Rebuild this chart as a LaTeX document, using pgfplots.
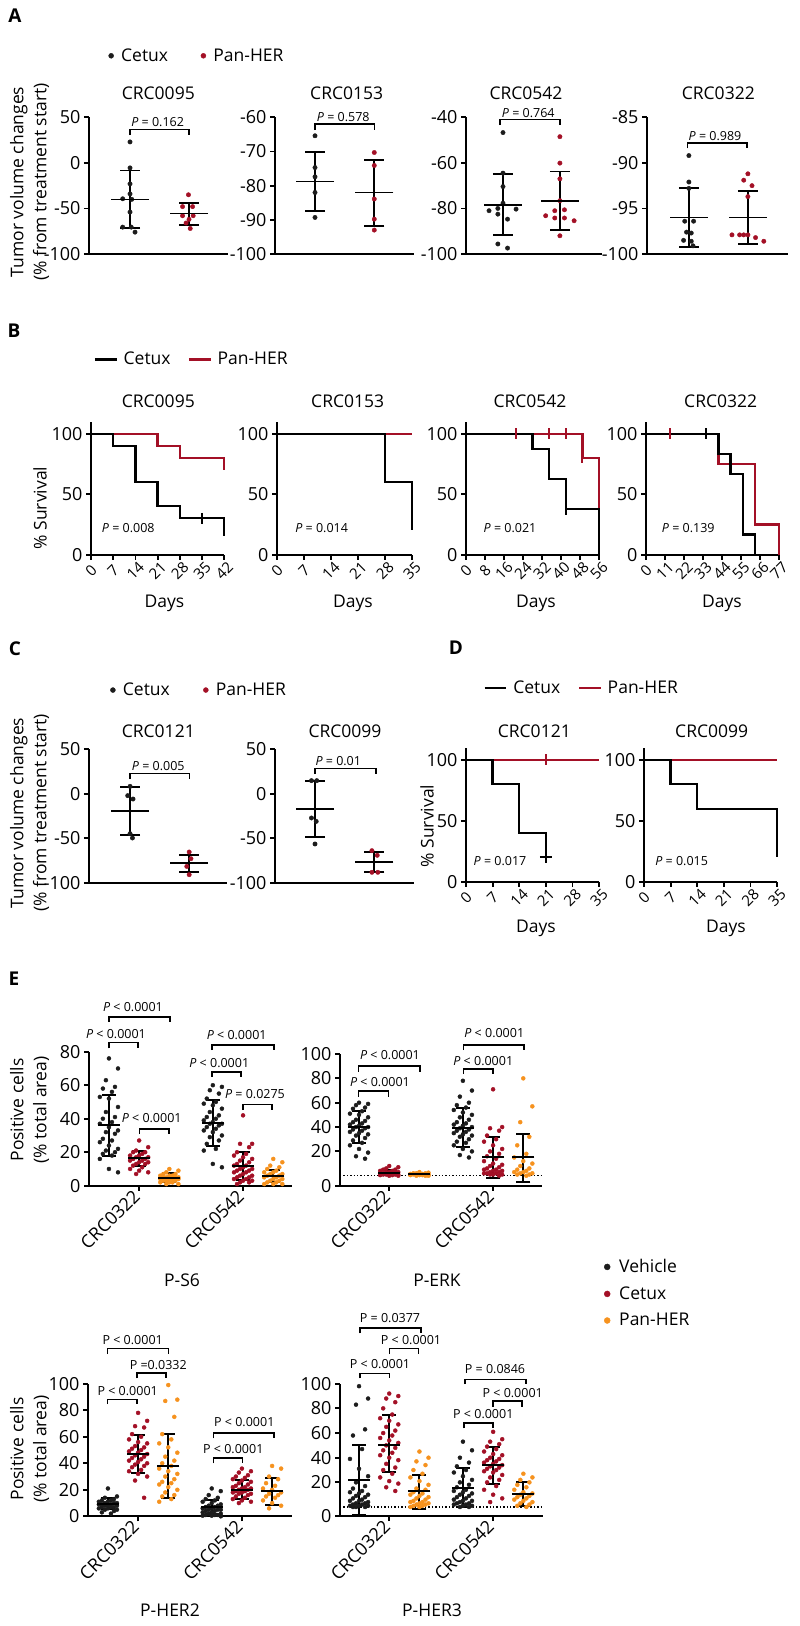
\documentclass[border=0pt]{standalone}
\usepackage{fontspec}
\setmainfont{Open Sans}
\usepackage{pgfplots}
\pgfplotsset{compat=1.18}
\definecolor{cred}{RGB}{163,16,38}
\definecolor{corg}{RGB}{246,146,30}
\definecolor{cblk}{RGB}{28,28,28}
\newcommand{\fbig}{\fontsize{17.5}{23}\selectfont}
\newcommand{\ftick}{\fontsize{18}{20}\selectfont}
\newcommand{\fday}{\fontsize{15}{17}\selectfont}
\newcommand{\fp}{\fontsize{12.5}{14}\selectfont}
\newcommand{\flet}{\fontsize{19}{20}\selectfont\bfseries}
\newcommand{\iP}{\textit{P}}
\newcommand{\br}[4]{\draw[line width=1.6pt] (#1,#4) -- (#1,#3) -- (#2,#3) -- (#2,#4);}
\newcommand{\grp}[3]{\addplot[#1] table[x expr={#2+0.1*(mod(\coordindex*3+3,7)-3)}, y index=0, header=false, row sep=\\]{#3};}
\pgfplotsset{
  base/.style={scale only axis, anchor=south west, clip=false,
    axis x line*=bottom, axis y line*=left,
    axis line style={line width=2.2pt},
    every tick/.style={line width=1.8pt, black},
    tick align=outside, major tick length=5pt,
    ticklabel style={font=\ftick},
    /pgf/number format/assume math mode=true,
    scaled ticks=false},
  scat/.style={base, xtick=\empty, height=136.7pt},
  scatC/.style={base, xtick=\empty, height=134pt, ymin=-100, ymax=50, ytick={-100,-50,0,50}},
  km/.style={base, ymin=0, ymax=110, ytick={0,50,100}, xmin=0,
    xticklabel shift=11pt,
    xticklabel style={font=\fday, rotate=45, anchor=center}},
  edot/.style={base, xtick={2,5.44}, xticklabels={CRC0322,CRC0542},
    xticklabel style={rotate=45, anchor=east}},
  dA/.style={only marks, mark=*, mark size=2.2pt, color=cblk},
  rA/.style={only marks, mark=*, mark size=2.2pt, color=cred},
  dk/.style={only marks, mark=*, mark size=2pt, color=cblk},
  dr/.style={only marks, mark=*, mark size=2pt, color=cred},
  do/.style={only marks, mark=*, mark size=2pt, color=corg},
  msdA/.style={only marks, black, mark=-, mark size=19pt, mark options={line width=1.8pt},
    error bars/.cd, y dir=both, y explicit, error bar style={line width=1.8pt, black},
    error mark options={rotate=90, mark size=10pt, line width=1.8pt, black}},
  msdE/.style={only marks, black, mark=-, mark size=11pt, mark options={line width=2pt},
    error bars/.cd, y dir=both, y explicit, error bar style={line width=2pt, black},
    error mark options={rotate=90, mark size=7pt, line width=2pt, black}},
  kmk/.style={const plot, black, line width=2.3pt, no marks},
  kmr/.style={const plot, cred, line width=2.3pt, no marks},
  cenk/.style={only marks, black, mark=|, mark size=5.5pt, mark options={line width=2pt}},
  cenr/.style={only marks, cred, mark=|, mark size=5.5pt, mark options={line width=2pt}},
  dotleg/.style={legend image code/.code={\draw[##1] plot coordinates {(0pt,0pt)}; \path[draw=none,fill=none] (-2.5pt,0pt) -- (#1,0pt);}},
  dotleg/.default=8pt,
  dotlegE/.style={legend image code/.code={\draw[##1] plot coordinates {(0pt,0pt)}; \path[draw=none,fill=none] (-3pt,0pt) -- (10pt,0pt);}},
  lineleg/.style={legend image code/.code={\draw[##1, line width=#1] (0pt,0pt) -- (21.7pt,0pt); \path[draw=none,fill=none] (0pt,0pt) -- (26.7pt,0pt);}},
  legbase/.style={legend style={draw=none, fill=none, inner sep=0pt, font=\fbig}},
}
\begin{document}
\begin{tikzpicture}[x=1pt,y=-1pt]
\useasboundingbox (0,0) rectangle (800,1626);

% ================= Panel A =================
\begin{axis}[scat, at={(89pt,-254pt)}, width=139pt, xmin=0.305, xmax=2.66, ymin=-100, ymax=50, ytick={-100,-50,0,50},
  dotleg, legbase, legend style={at={(axis description cs:0.140,1.45)}, anchor=west,
  legend columns=2, /tikz/every even column/.append style={column sep=30.8pt}}]
\addlegendimage{only marks, mark=*, mark size=2.5pt, cblk}
\addlegendimage{only marks, mark=*, mark size=2.5pt, cred}
\legend{Cetux,Pan-HER}
\addplot[dA] coordinates {(1,23) (1,-5.5) (1,-23) (1,-34) (0.876,-39.4) (1.03,-40) (1,-54) (0.876,-70.5) (1.02,-70.5) (1.085,-76)};
\addplot[rA] coordinates {(1.99,-35) (1.89,-48) (2.06,-48) (1.89,-58) (2.07,-58) (2.0,-62) (1.95,-66) (2.02,-72)};
\addplot[msdA] coordinates {(1,-40.1) += (0,31.7) -= (0,31.1)};
\addplot[msdA] coordinates {(2,-55.5) += (0,11.7) -= (0,12.4)};
\end{axis}

\begin{axis}[scat, at={(275pt,-254pt)}, width=139pt, xmin=0.325, xmax=2.67, ymin=-100, ymax=-60, ytick={-100,-90,-80,-70,-60}]
\addplot[dA] coordinates {(1,-65.4) (1,-74.7) (1,-77.4) (1,-82) (1,-89.3)};
\addplot[rA] coordinates {(2,-70.3) (2,-74.1) (2,-83.9) (2,-89.8) (2,-93)};
\addplot[msdA] coordinates {(1,-78.8) += (0,8.6) -= (0,8.6)};
\addplot[msdA] coordinates {(2,-82) += (0,9.5) -= (0,9.9)};
\end{axis}

\begin{axis}[scat, at={(466pt,-254pt)}, width=136pt, xmin=0.35, xmax=2.74, ymin=-100, ymax=-40, ytick={-100,-80,-60,-40}]
\addplot[dA] coordinates {(1,-46.7) (1,-64.5) (1,-70.4) (1,-77.7) (0.755,-81) (0.91,-80) (0.91,-82.5) (1.23,-80.3) (1.08,-84.7) (0.91,-95.6) (1.08,-97.4)};
\addplot[rA] coordinates {(2,-48.5) (2,-60.1) (2,-67) (2,-76.6) (1.75,-83.2) (1.91,-81) (2.08,-80.6) (1.91,-84.2) (2.08,-84.2) (2.25,-85.4) (2,-92)};
\addplot[msdA] coordinates {(1,-78.4) += (0,13.6) -= (0,13.4)};
\addplot[msdA] coordinates {(2,-76.6) += (0,12.8) -= (0,12.7)};
\end{axis}

\begin{axis}[scat, at={(647pt,-254pt)}, width=141pt, xmin=0.29, xmax=2.68, ymin=-100, ymax=-85, ytick={-100,-95,-90,-85}]
\addplot[dA] coordinates {(1,-89.2) (1,-92.1) (1,-92.8) (0.93,-96.4) (1.08,-96.4) (0.96,-97.6) (1.04,-97.7) (0.91,-98.5) (1.04,-98.6) (1.07,-99.1)};
\addplot[rA] coordinates {(2,-91.2) (1.93,-91.9) (2.07,-92.5) (2,-93.7) (1.73,-97.9) (1.86,-97.9) (1.93,-97.9) (2,-97.9) (2.13,-98.2) (2.27,-98.6)};
\addplot[msdA] coordinates {(1,-96) += (0,3.2) -= (0,3.2)};
\addplot[msdA] coordinates {(2,-96) += (0,2.9) -= (0,2.9)};
\end{axis}

% ================= Panel B =================
\begin{axis}[km, at={(91pt,-554.6pt)}, width=133.3pt, height=133pt, xmax=42, xtick={0,7,...,42},
  lineleg=3pt, legbase, legend style={at={(axis description cs:0.017,1.468)}, anchor=west,
  legend columns=2, /tikz/every even column/.append style={column sep=14.7pt}}]
\addlegendimage{black}
\addlegendimage{cred}
\legend{Cetux,Pan-HER}
\addplot[kmr] coordinates {(0,100) (21,90) (28,80) (42,70)};
\addplot[kmk] coordinates {(0,100) (7,90) (14,60) (21,40) (28,30) (42,15)};
\addplot[cenk] coordinates {(35,30)};
\end{axis}

\begin{axis}[km, at={(277pt,-554.6pt)}, width=135pt, height=133pt, xmax=35, xtick={0,7,...,35}]
\addplot[kmr] coordinates {(0,100) (35,100)};
\addplot[kmk] coordinates {(0,100) (28,60) (35,20)};
\end{axis}

\begin{axis}[km, at={(466pt,-554.6pt)}, width=133pt, height=133pt, xmax=56, xtick={0,8,...,56}]
\addplot[kmr] coordinates {(0,100) (49,80) (56,0)};
\addplot[kmk] coordinates {(0,100) (28,87.5) (35,62.5) (42,37.5) (56,0)};
\addplot[cenk] coordinates {(42,37.5)};
\addplot[cenr] coordinates {(21,100) (35,100) (42,100) (49,80)};
\end{axis}

\begin{axis}[km, at={(646pt,-554.6pt)}, width=133pt, height=133pt, xmax=77, xtick={0,11,...,77}]
\addplot[kmr] coordinates {(0,100) (42,75) (63,25) (77,0)};
\addplot[kmk] coordinates {(0,100) (42,83.3) (49,66.7) (56,16.7) (63,0)};
\addplot[cenk] coordinates {(35,100)};
\addplot[cenr] coordinates {(14,100)};
\end{axis}

% ================= Panel C =================
\begin{axis}[scatC, at={(89pt,-883pt)}, width=138pt, xmin=0.305, xmax=2.64,
  dotleg, legbase, legend style={at={(axis description cs:0.1536,1.44)}, anchor=west,
  legend columns=2, /tikz/every even column/.append style={column sep=31.5pt}}]
\addlegendimage{only marks, mark=*, mark size=2.5pt, cblk}
\addlegendimage{only marks, mark=*, mark size=2.5pt, cred}
\legend{Cetux,Pan-HER}
\addplot[dA] coordinates {(1,8.2) (0.96,-2.2) (1.05,-6) (1,-44.8) (1.04,-49.6)};
\addplot[rA] coordinates {(2,-65.3) (2.03,-72.8) (1.96,-81.4) (2,-90.7)};
\addplot[msdA] coordinates {(1,-19) += (0,26.8) -= (0,27)};
\addplot[msdA] coordinates {(2,-78) += (0,9) -= (0,9.7)};
\end{axis}

\begin{axis}[scatC, at={(275pt,-883pt)}, width=139pt, xmin=0.325, xmax=2.67]
\addplot[dA] coordinates {(0.94,14.6) (1.03,14.6) (0.94,-27.2) (1.02,-31) (1,-56.3)};
\addplot[rA] coordinates {(1.96,-63.8) (2.05,-69) (1.96,-88) (2.06,-88)};
\addplot[msdA] coordinates {(1,-17) += (0,31.6) -= (0,31.5)};
\addplot[msdA] coordinates {(2,-76.5) += (0,10.8) -= (0,11.2)};
\end{axis}

% ================= Panel D =================
\begin{axis}[km, at={(466pt,-881.7pt)}, width=133pt, height=133.9pt, xmax=35, xtick={0,7,...,35},
  lineleg=2.2pt, legbase, legend style={at={(axis description cs:0.13,1.449)}, anchor=west,
  legend columns=2, /tikz/every even column/.append style={column sep=15.7pt}}]
\addlegendimage{black}
\addlegendimage{cred}
\legend{Cetux,Pan-HER}
\addplot[kmr] coordinates {(0,100) (35,100)};
\addplot[kmk] coordinates {(0,100) (7,80) (14,40) (21,20)};
\addplot[only marks, black, mark=+, mark size=6pt, mark options={line width=2pt}] coordinates {(21,20)};
\addplot[cenr] coordinates {(21,100)};
\end{axis}

\begin{axis}[km, at={(644pt,-881.7pt)}, width=133pt, height=133.9pt, xmax=35, xtick={0,7,...,35}]
\addplot[kmr] coordinates {(0,100) (35,100)};
\addplot[kmk] coordinates {(0,100) (7,80) (14,60) (35,20)};
\end{axis}

% ================= Panel E : P-S6 =================
\begin{axis}[edot, at={(89pt,-1185.7pt)}, width=203pt, height=134pt, xmin=0.34, xmax=7.06, ymin=0, ymax=80, ytick={0,20,40,60,80}]
\grp{dk}{1}{76\\70\\63\\59\\58\\56\\53\\52\\47\\44\\41\\40\\38\\37\\35\\33\\32\\31\\28\\27\\26\\24\\22\\21\\20\\19\\18\\16\\10\\8\\}
\grp{dr}{2}{27\\23\\21\\20\\20\\19\\18\\18\\17\\17\\16\\16\\15\\15\\14\\14\\13\\13\\12\\11\\10\\9\\8\\7\\}
\grp{do}{3}{10\\9\\8\\7\\7\\6\\6\\6\\5\\5\\5\\5\\4\\4\\4\\4\\3\\3\\3\\2\\2\\2\\1\\1\\}
\grp{dk}{4.44}{60\\59\\57\\55\\52\\50\\49\\48\\46\\44\\42\\41\\40\\39\\38\\37\\37\\36\\35\\34\\33\\32\\30\\29\\27\\25\\22\\21\\13\\11\\}
\grp{dr}{5.44}{42\\25\\25\\23\\20\\19\\18\\17\\16\\15\\14\\13\\12\\12\\11\\10\\10\\9\\9\\8\\8\\7\\6\\6\\5\\5\\4\\4\\3\\3\\2\\2\\1\\}
\grp{do}{6.44}{16\\14\\12\\11\\10\\9\\8\\8\\7\\7\\6\\6\\5\\5\\4\\4\\3\\3\\2\\2\\1\\1\\1\\}
\addplot[msdE] coordinates {(1,36) += (0,18) -= (0,18)};
\addplot[msdE] coordinates {(2,16.4) += (0,4.6) -= (0,4.8)};
\addplot[msdE] coordinates {(3,4.8) += (0,2.6) -= (0,2.4)};
\addplot[msdE] coordinates {(4.44,37.4) += (0,13.6) -= (0,13.6)};
\addplot[msdE] coordinates {(5.44,12) += (0,8.4) -= (0,8.6)};
\addplot[msdE] coordinates {(6.44,5.8) += (0,3.6) -= (0,3.8)};
\end{axis}

% ================= P-ERK =================
\begin{axis}[edot, at={(340pt,-1185.7pt)}, width=202pt, height=131.7pt, xmin=0.37, xmax=7.06, ymin=-8.2, ymax=100,
  ytick={-8.2,20,40,60,80,100}, yticklabels={0,20,40,60,80,100},
  dotlegE, legbase, legend cell align=left, legend style={at={(axis description cs:1.307,-0.8185)}, anchor=west,
  legend columns=1, row sep=8.5pt}]
\addlegendimage{only marks, mark=*, mark size=3pt, cblk}
\addlegendimage{only marks, mark=*, mark size=3pt, cred}
\addlegendimage{only marks, mark=*, mark size=3pt, corg}
\legend{Vehicle,Cetux,Pan-HER}
\addplot[dotted, line width=1.4pt, black] coordinates {(0.37,0) (7.06,0)};
\grp{dk}{1}{60\\59\\58\\56\\55\\53\\51\\50\\48\\46\\45\\44\\43\\42\\41\\40\\40\\39\\38\\37\\36\\35\\34\\33\\31\\29\\27\\25\\22\\19\\16\\14\\}
\grp{dr}{2}{8\\7\\6\\5\\5\\4\\4\\3\\3\\3\\3\\2\\2\\2\\2\\1\\1\\1\\1\\0.5\\0.5\\0\\0\\}
\grp{do}{3}{3\\2.5\\2\\2\\2\\1.5\\1.5\\1.5\\1\\1\\1\\1\\0.5\\0.5\\0.5\\0\\0\\0\\}
\grp{dk}{4.44}{78\\70\\65\\60\\58\\56\\54\\52\\50\\48\\46\\44\\43\\42\\41\\40\\39\\38\\37\\36\\35\\34\\33\\32\\30\\28\\27\\25\\22\\20\\17\\15\\}
\grp{dr}{5.44}{71\\40\\39\\37\\33\\30\\28\\25\\22\\20\\18\\16\\14\\12\\10\\9\\8\\7\\6\\5\\5\\4\\4\\3\\3\\2\\2\\2\\1\\1\\1\\0\\}
\grp{do}{6.44}{80\\57\\44\\32\\25\\18\\15\\12\\10\\8\\6\\5\\4\\3\\3\\2\\2\\1\\1\\0\\}
\addplot[msdE] coordinates {(1,40.3) += (0,12.9) -= (0,13.7)};
\addplot[msdE] coordinates {(2,2.5) += (0,2.2) -= (0,1.8)};
\addplot[msdE] coordinates {(3,1.1) += (0,0.7) -= (0,0.7)};
\addplot[msdE] coordinates {(4.44,39.5) += (0,16.4) -= (0,15.6)};
\addplot[msdE] coordinates {(5.44,15) += (0,17) -= (0,17.2)};
\addplot[msdE] coordinates {(6.44,15) += (0,19.6) -= (0,20)};
\end{axis}

% ================= P-HER2 =================
\begin{axis}[edot, at={(88pt,-1516.3pt)}, width=204pt, height=132.6pt, xmin=0.34, xmax=7.1, ymin=0, ymax=100, ytick={0,20,40,60,80,100}]
\grp{dk}{1}{21\\15\\14\\13\\12\\12\\11\\11\\10\\10\\10\\9\\9\\9\\8\\8\\8\\7\\7\\7\\6\\6\\5\\5\\4\\3\\2\\}
\grp{dr}{2}{78\\72\\68\\67\\62\\60\\58\\56\\55\\53\\52\\51\\50\\49\\48\\47\\46\\45\\44\\43\\42\\41\\40\\39\\38\\37\\35\\34\\32\\30\\27\\14\\}
\grp{do}{3}{99\\88\\87\\75\\62\\58\\55\\52\\48\\45\\42\\40\\38\\36\\34\\32\\30\\28\\26\\25\\24\\22\\20\\18\\16\\15\\13\\11\\}
\grp{dk}{4.44}{21\\19\\16\\14\\13\\12\\11\\10\\9\\8\\8\\7\\7\\6\\6\\5\\5\\5\\4\\4\\3\\3\\2\\2\\1\\1\\1\\0.5\\0.5\\0\\}
\grp{dr}{5.44}{36\\34\\33\\31\\30\\29\\28\\27\\26\\25\\24\\23\\22\\22\\21\\21\\20\\20\\19\\19\\18\\18\\17\\17\\16\\15\\14\\13\\12\\11\\10\\}
\grp{do}{6.44}{38\\36\\30\\28\\25\\23\\21\\20\\18\\17\\16\\15\\14\\12\\10\\8\\6\\}
\addplot[msdE] coordinates {(1,9) += (0,4.8) -= (0,3.2)};
\addplot[msdE] coordinates {(2,47.2) += (0,14.3) -= (0,14.3)};
\addplot[msdE] coordinates {(3,38) += (0,24.3) -= (0,24.2)};
\addplot[msdE] coordinates {(4.44,7) += (0,5.5) -= (0,5.5)};
\addplot[msdE] coordinates {(5.44,20.1) += (0,7) -= (0,6.8)};
\addplot[msdE] coordinates {(6.44,18.9) += (0,10) -= (0,10.6)};
\end{axis}

% ================= P-HER3 =================
\begin{axis}[edot, at={(340pt,-1516pt)}, width=203pt, height=132.3pt, xmin=0.37, xmax=7.09, ymin=-7.3, ymax=100,
  ytick={-7.3,20,40,60,80,100}, yticklabels={0,20,40,60,80,100}]
\addplot[dotted, line width=1.4pt, black] coordinates {(0.37,0) (7.09,0)};
\grp{dk}{1}{98\\88\\83\\63\\58\\47\\39\\31\\25\\20\\17\\15\\13\\12\\11\\10\\9\\8\\7\\6\\5\\5\\4\\3\\3\\2\\2\\1\\1\\1\\0\\0\\0\\}
\grp{dr}{2}{92\\90\\88\\85\\80\\75\\72\\70\\67\\65\\62\\60\\58\\56\\54\\52\\50\\48\\46\\44\\42\\40\\38\\35\\32\\30\\27\\24\\21\\19\\16\\13\\}
\grp{do}{3}{45\\40\\37\\34\\30\\27\\24\\21\\18\\15\\14\\12\\11\\10\\9\\8\\7\\6\\5\\4\\4\\3\\3\\2\\2\\1\\1\\0\\0\\}
\grp{dk}{4.44}{53\\46\\40\\36\\33\\30\\28\\25\\22\\20\\18\\16\\14\\13\\12\\11\\10\\9\\8\\7\\6\\5\\5\\4\\3\\3\\2\\2\\1\\1\\0\\0\\}
\grp{dr}{5.44}{61\\55\\53\\51\\49\\47\\45\\43\\42\\40\\39\\38\\37\\36\\35\\34\\33\\32\\31\\30\\29\\28\\26\\24\\22\\20\\17\\14\\10\\7\\4\\}
\grp{do}{6.44}{27\\24\\22\\20\\18\\16\\14\\12\\11\\10\\9\\8\\7\\6\\5\\4\\3\\2\\1\\0\\}
\addplot[msdE] coordinates {(1,22.2) += (0,28.3) -= (0,28.4)};
\addplot[msdE] coordinates {(2,50.5) += (0,24.5) -= (0,22.5)};
\addplot[msdE] coordinates {(3,12.7) += (0,13.5) -= (0,14.1)};
\addplot[msdE] coordinates {(4.44,15.4) += (0,16.2) -= (0,15.4)};
\addplot[msdE] coordinates {(5.44,34.3) += (0,14.4) -= (0,15.4)};
\addplot[msdE] coordinates {(6.44,10.8) += (0,9.5) -= (0,10)};
\end{axis}

% ================= Text =================
\node[font=\flet] at (15,16) {A};
\node[font=\flet] at (14,330.7) {B};
\node[font=\flet] at (15,648.3) {C};
\node[font=\flet] at (456,647.3) {D};
\node[font=\flet] at (14,979) {E};

\begin{scope}[every node/.style={font=\fbig}]
\node at (158.3,93.3) {CRC0095};
\node at (346.7,93.3) {CRC0153};
\node at (526,93.3) {CRC0542};
\node at (718.3,93.3) {CRC0322};
\node at (158.3,401.7) {CRC0095};
\node at (347.7,401.7) {CRC0153};
\node at (530,401.7) {CRC0542};
\node at (720.7,401.7) {CRC0322};
\node at (158.3,731) {CRC0121};
\node at (345,731) {CRC0099};
\node at (534.3,731) {CRC0121};
\node at (711.7,731) {CRC0099};
\node at (164.5,603) {Days};
\node at (353,603) {Days};
\node at (536,603) {Days};
\node at (722,603) {Days};
\node at (536,928.5) {Days};
\node at (726,928.5) {Days};
\node[rotate=90] at (40,508) {\% Survival};
\node[rotate=90] at (427,826) {\% Survival};
\node[rotate=90, align=center] at (29.5,182) {Tumor volume changes\\(\% from treatment start)};
\node[rotate=90, align=center] at (29.5,813) {Tumor volume changes\\(\% from treatment start)};
\node[rotate=90, align=center] at (29.5,1110) {Positive cells\\(\% total area)};
\node[rotate=90, align=center] at (29.5,1449) {Positive cells\\(\% total area)};
\node at (182,1280) {P-S6};
\node at (437,1280) {P-ERK};
\node at (170,1610) {P-HER2};
\node at (432,1610) {P-HER3};
\end{scope}

\begin{scope}[every node/.style={font=\fp}]
\node at (157.7,122.3) {\iP{} = 0.162}; \br{130}{189}{129.3}{135}
\node at (343.3,117.3) {\iP{} = 0.578}; \br{315}{374.3}{124}{130}
\node at (528.3,113.3) {\iP{} = 0.764}; \br{500}{560}{119.3}{125}
\node at (715,135.7) {\iP{} = 0.989}; \br{687.3}{746.7}{142.7}{148.3}
\node at (128.3,527.7) {\iP{} = 0.008};
\node at (321.7,527.7) {\iP{} = 0.014};
\node at (510,527.7) {\iP{} = 0.021};
\node at (688.3,527.7) {\iP{} = 0.139};
\node at (158.3,766) {\iP{} = 0.005}; \br{130}{189.3}{773.3}{779}
\node at (338.3,760.7) {\iP{} = 0.01}; \br{315}{375.7}{768.3}{774}
\node at (500,860.7) {\iP{} = 0.017};
\node at (681.7,860.7) {\iP{} = 0.015};
\node at (133,1006.7) {\iP{} < 0.0001}; \br{109}{170}{1016.7}{1021.7}
\node at (116,1034) {\iP{} < 0.0001}; \br{109}{138}{1042.3}{1048.3}
\node at (151.7,1118.3) {\iP{} < 0.0001}; \br{139.3}{169}{1129}{1134}
\node at (236.7,1035) {\iP{} < 0.0001}; \br{212}{274}{1045}{1050}
\node at (219.3,1062.7) {\iP{} < 0.0001}; \br{212}{241}{1071.7}{1076.7}
\node at (255,1094.3) {\iP{} = 0.0275}; \br{242.7}{271.7}{1104.3}{1110}
\node at (390,1055) {\iP{} < 0.0001}; \br{358.3}{420}{1065.7}{1071.7}
\node at (380,1082.3) {\iP{} < 0.0001}; \br{358.3}{388.3}{1090.7}{1096.7}
\node at (494.3,1033.3) {\iP{} < 0.0001}; \br{463.3}{524}{1045}{1050}
\node at (483.3,1060.7) {\iP{} < 0.0001}; \br{463.3}{492.7}{1069}{1074}
\node at (132.7,1340) {P < 0.0001}; \br{107.3}{168.3}{1348.3}{1354}
\node at (158.3,1365) {P =0.0332}; \br{136.7}{165.7}{1372.7}{1378.3}
\node at (127.7,1391) {P < 0.0001}; \br{107.3}{136.7}{1399.3}{1404}
\node at (244.3,1422.3) {P < 0.0001}; \br{213.3}{274}{1432.7}{1438.3}
\node at (233.3,1449.3) {P < 0.0001}; \br{213.3}{242.3}{1457.7}{1463.3}
\node at (390,1318.3) {P = 0.0377}; \br{360}{420.7}{1327.7}{1333.3}
\node at (411,1340) {P < 0.0001}; \br{389.3}{418.3}{1348.3}{1354}
\node at (380,1364.3) {P < 0.0001}; \br{360}{389.3}{1373.3}{1378.3}
\node at (495,1369) {P = 0.0846}; \br{465}{526}{1379.3}{1384}
\node at (512.7,1392.7) {P < 0.0001}; \br{492.7}{521.7}{1401}{1406.7}
\node at (483.3,1414.3) {P < 0.0001}; \br{464}{492.7}{1422.7}{1428.3}
\end{scope}
\end{tikzpicture}
\end{document}
